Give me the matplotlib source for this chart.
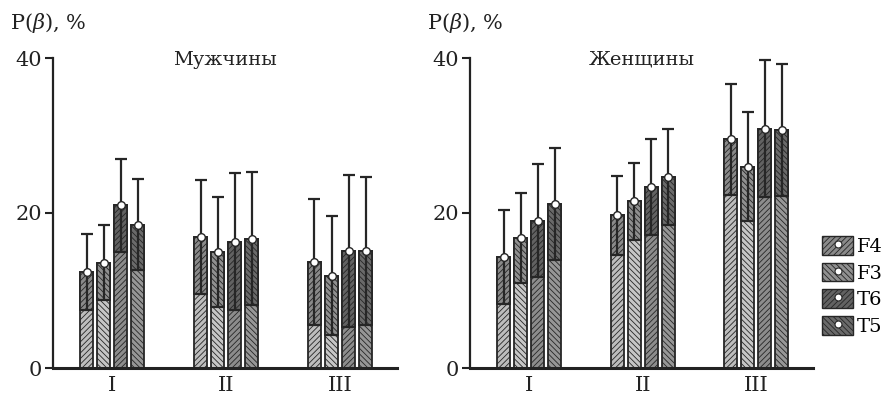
import numpy as np
import matplotlib
matplotlib.use("Agg")
import matplotlib.pyplot as plt
from matplotlib.patches import Patch
from matplotlib.lines import Line2D

plt.rcParams['font.family'] = ['DejaVu Serif']
plt.rcParams['mathtext.fontset'] = 'dejavuserif'
plt.rcParams['hatch.linewidth'] = 0.6

# Data (mean and SD, %)
groups = ['I', 'II', 'III']
leads = ['F4', 'F3', 'T6', 'T5']

men_mean = {
    'F4': [12.4, 16.9, 13.7],
    'F3': [13.6, 15.0, 11.9],
    'T6': [21.0, 16.3, 15.1],
    'T5': [18.5, 16.7, 15.1],
}
men_sd = {
    'F4': [4.9, 7.3, 8.1],
    'F3': [4.8, 7.1, 7.7],
    'T6': [6.0, 8.8, 9.8],
    'T5': [5.9, 8.6, 9.5],
}
women_mean = {
    'F4': [14.3, 19.7, 29.5],
    'F3': [16.8, 21.5, 26.0],
    'T6': [19.0, 23.4, 30.9],
    'T5': [21.2, 24.6, 30.7],
}
women_sd = {
    'F4': [6.1, 5.1, 7.2],
    'F3': [5.8, 5.0, 7.0],
    'T6': [7.3, 6.2, 8.8],
    'T5': [7.2, 6.2, 8.5],
}

# styles per lead
face = {'F4': '#bdbdbd', 'F3': '#c6c6c6', 'T6': '#8c8c8c', 'T5': '#969696'}
face_top = {'F4': '#8a8a8a', 'F3': '#909090', 'T6': '#626262', 'T5': '#6a6a6a'}
hatch = {'F4': '//////', 'F3': '\\\\\\\\\\\\', 'T6': '//////', 'T5': '\\\\\\\\\\\\'}
edge = '#262626'

fig = plt.figure(figsize=(8.88, 3.96), dpi=100)
ax_m = fig.add_axes([53 / 888, 1 - 368 / 396, 344 / 888, 310 / 396])
ax_w = fig.add_axes([470 / 888, 1 - 368 / 396, 343 / 888, 310 / 396])

x = np.arange(len(groups))
width = 0.115
step = 0.15


def draw_panel(ax, means, sds, title):
    for i, lead in enumerate(leads):
        pos = x + (i - 1.5) * step
        m = np.array(means[lead])
        s = np.array(sds[lead])
        ax.bar(pos, m, width, color=face[lead], edgecolor=edge, hatch=hatch[lead],
               linewidth=1.3, zorder=2)
        ax.bar(pos, s, width, bottom=m - s, color=face_top[lead], edgecolor=edge,
               hatch=hatch[lead], linewidth=1.3, zorder=3)
        ax.errorbar(pos, m, yerr=[s, s], fmt='none', ecolor=edge, elinewidth=1.6,
                    capsize=4.5, capthick=1.6, zorder=4)
        ax.plot(pos, m, 'o', ms=5.5, mfc='white', mec=edge, mew=1.0, zorder=5)

    ax.set_xlim(-0.52, 2.5)
    ax.set_ylim(0, 40)
    ax.set_xticks(x)
    ax.set_xticklabels(groups)
    ax.set_yticks([0, 20, 40])
    ax.tick_params(axis='x', length=0, labelsize=15, pad=6, colors='#222222')
    ax.tick_params(axis='y', direction='out', length=6, width=1.5, labelsize=15,
                   pad=2, colors='#222222')
    for side in ['top', 'right']:
        ax.spines[side].set_visible(False)
    ax.spines['left'].set_linewidth(1.6)
    ax.spines['bottom'].set_linewidth(2.2)
    ax.spines['left'].set_color('#222222')
    ax.spines['bottom'].set_color('#222222')
    ax.text(0.5, 0.995, title, transform=ax.transAxes, ha='center', va='center',
            fontsize=14, color='#222222')
    ax.text(-0.125, 1.112, 'P$(\\beta)$, %', transform=ax.transAxes, ha='left',
            va='center', fontsize=15, color='#222222')


draw_panel(ax_m, men_mean, men_sd, 'Мужчины')
draw_panel(ax_w, women_mean, women_sd, 'Женщины')

handles = []
for lead in leads:
    p = Patch(facecolor=face_top[lead], edgecolor=edge, hatch=hatch[lead], linewidth=1.0)
    dot = Line2D([], [], marker='o', ls='none', ms=5, mfc='white', mec=edge, mew=0.8)
    handles.append((p, dot))
fig.legend(handles, leads, loc='upper left', bbox_to_anchor=(822 / 888, 1 - 236 / 396),
           frameon=False, fontsize=14, handlelength=1.6, handleheight=1.1,
           labelspacing=0.35, handletextpad=0.2, borderpad=0, borderaxespad=0)

fig.savefig('out.png', dpi=100)
